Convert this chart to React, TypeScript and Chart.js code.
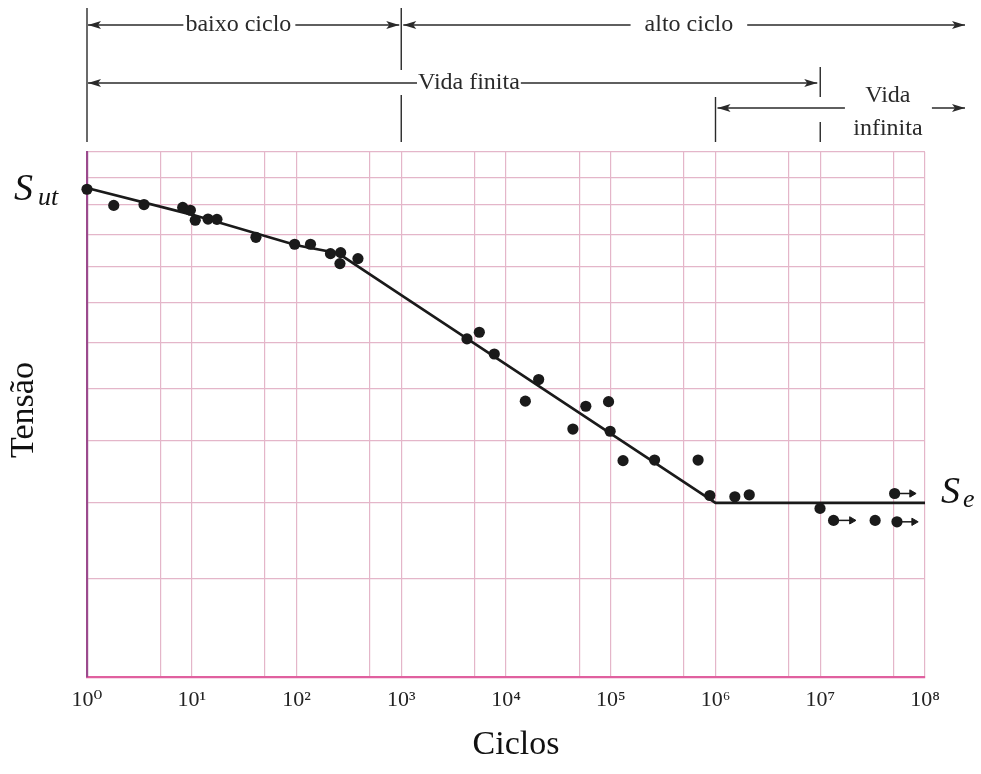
import React, { useEffect, useRef } from 'react';
import { Chart, registerables } from 'chart.js';

Chart.register(...registerables);

const SERIF = '"Liberation Serif", "DejaVu Serif", "Times New Roman", serif';

// x axis (cycles, log scale)
const decadeTicks = [1, 1e1, 1e2, 1e3, 1e4, 1e5, 1e6, 1e7, 1e8];
const halfDecadeTicks = [5, 5e1, 5e2, 5e3, 5e4, 5e5, 5e6, 5e7];
const tickLabels = ['10⁰', '10¹', '10²', '10³', '10⁴', '10⁵', '10⁶', '10⁷', '10⁸'];

// y axis (stress, log scale, unlabeled grid)
const stressGrid = [3, 4, 5, 6, 7, 8, 9, 10, 11, 12, 13, 14];

// S-N curve
const curveN = [1, 10, 100, 250, 1000, 1e6, 1e8];
const curveS = [12.6, 11.65, 10.65, 10.4, 9.2, 5.0, 5.0];

// test results
const testN = [1, 1.8, 3.5, 8.2, 9.7, 10.8, 14.3, 17.4, 41, 96, 136, 211, 264, 260, 386,
  4240, 5560, 7730, 15300, 20500, 43500, 57800, 95300, 98700, 131000, 262000, 682000,
  883000, 1.53e6, 2.1e6, 9.95e6, 1.34e7, 3.34e7, 5.4e7, 5.13e7];
const testS = [12.55, 11.97, 12.0, 11.9, 11.8, 11.46, 11.5, 11.49, 10.9, 10.68, 10.68, 10.39, 10.42, 10.09, 10.24,
  8.09, 8.25, 7.74, 6.74, 7.18, 6.21, 6.64, 6.73, 6.17, 5.66, 5.67, 5.67,
  5.11, 5.09, 5.12, 4.92, 4.75, 4.75, 4.73, 5.14];

// run-outs (unbroken specimens) with arrows
const runoutN = [1.34e7, 5.4e7, 5.13e7];
const runoutS = [4.75, 4.73, 5.14];
const runoutTipN = [2.0e7, 7.85e7, 7.5e7];

const INK = '#1a1a1a';
const TEXT = '#2a2a2a';

function arrowHead(ctx: CanvasRenderingContext2D, x: number, y: number, dir: number) {
  ctx.beginPath();
  ctx.moveTo(x, y);
  ctx.lineTo(x - dir * 13, y - 4);
  ctx.lineTo(x - dir * 10, y);
  ctx.lineTo(x - dir * 13, y + 4);
  ctx.closePath();
  ctx.fill();
}

function line(ctx: CanvasRenderingContext2D, x1: number, y1: number, x2: number, y2: number) {
  ctx.beginPath();
  ctx.moveTo(x1, y1);
  ctx.lineTo(x2, y2);
  ctx.stroke();
}

const annotations = {
  id: 'annotations',
  afterDraw(chart: any) {
    const ctx: CanvasRenderingContext2D = chart.ctx;
    const xs = chart.scales.x;
    const ys = chart.scales.y;
    const px = (v: number) => xs.getPixelForValue(v);
    const x0 = px(1), x3 = px(1e3), x6 = px(1e6), x7 = px(1e7);
    const xEnd = chart.chartArea.right + 40;
    ctx.save();
    ctx.strokeStyle = TEXT;
    ctx.fillStyle = TEXT;
    ctx.lineWidth = 1.4;
    // vertical boundary lines
    line(ctx, x0, 8, x0, 142);
    line(ctx, x3, 8, x3, 70);
    line(ctx, x3, 95, x3, 142);
    line(ctx, x7, 67, x7, 97);
    line(ctx, x7, 122, x7, 142);
    line(ctx, x6, 97, x6, 142);

    ctx.font = `24px ${SERIF}`;
    ctx.textAlign = 'center';
    ctx.textBaseline = 'middle';

    const labeledArrow = (xa: number, xb: number, y: number, txt: string, cx: number, gapL: number, gapR: number, headL: boolean, headR: boolean) => {
      const w = ctx.measureText(txt).width;
      line(ctx, xa, y, cx - w / 2 - gapL, y);
      line(ctx, cx + w / 2 + gapR, y, xb, y);
      ctx.fillText(txt, cx, y);
      if (headL) arrowHead(ctx, xa, y, -1);
      if (headR) arrowHead(ctx, xb, y, 1);
    };

    // row 1
    labeledArrow(x0 + 1, x3 - 2, 25, 'baixo ciclo', px(Math.pow(10, 1.445)), 2, 4, true, true);
    labeledArrow(x3 + 2, xEnd, 25, 'alto ciclo', px(Math.pow(10, 5.746)), 14, 14, true, true);
    // row 2
    labeledArrow(x0 + 1, x7 - 3, 83, 'Vida finita', px(Math.pow(10, 3.646)), 1, 1, true, true);
    // row 3
    const cInf = px(Math.pow(10, 7.646));
    line(ctx, x6 + 2, 108, cInf - 43, 108);
    arrowHead(ctx, x6 + 2, 108, -1);
    line(ctx, cInf + 44, 108, xEnd, 108);
    arrowHead(ctx, xEnd, 108, 1);
    ctx.fillText('Vida', cInf, 96);
    ctx.fillText('infinita', cInf, 129);

    // S_ut, S_e
    ctx.textAlign = 'left';
    ctx.textBaseline = 'alphabetic';
    ctx.fillStyle = '#111';
    const yut = ys.getPixelForValue(curveS[0]);
    ctx.font = `italic 38px ${SERIF}`;
    ctx.fillText('S', 14, yut + 12);
    ctx.font = `italic 26px ${SERIF}`;
    ctx.fillText('ut', 38, yut + 17);
    const ye = ys.getPixelForValue(curveS[curveS.length - 1]);
    ctx.font = `italic 38px ${SERIF}`;
    ctx.fillText('S', 941, ye);
    ctx.font = `italic 26px ${SERIF}`;
    ctx.fillText('e', 963, ye + 4);

    // axis titles
    ctx.font = `34px ${SERIF}`;
    ctx.textAlign = 'center';
    ctx.textBaseline = 'middle';
    ctx.fillText('Ciclos', 516, 745);
    ctx.save();
    ctx.translate(24, 410);
    ctx.rotate(-Math.PI / 2);
    ctx.fillText('Tensão', 0, 0);
    ctx.restore();

    ctx.restore();
  },
};

export default function App() {
  const ref = useRef<HTMLCanvasElement>(null);
  useEffect(() => {
    if (!ref.current) return;
    const xTickValues = [...decadeTicks, ...halfDecadeTicks].sort((a, b) => a - b);
    const datasets: any[] = [
      {
        label: 'Ensaios',
        data: testN.map((n, i) => ({ x: n, y: testS[i] })),
        showLine: false,
        pointRadius: 5.6,
        pointBackgroundColor: INK,
        pointBorderColor: INK,
        pointBorderWidth: 0,
        clip: false,
      },
      {
        label: 'Curva S-N',
        data: curveN.map((n, i) => ({ x: n, y: curveS[i] })),
        showLine: true,
        borderColor: INK,
        borderWidth: 2.6,
        pointRadius: 0,
        tension: 0,
        clip: false,
      },
      ...runoutN.map((n, i) => ({
        label: 'runout' + i,
        data: [{ x: n, y: runoutS[i] }, { x: runoutTipN[i], y: runoutS[i] }],
        showLine: true,
        borderColor: INK,
        borderWidth: 1.5,
        pointRadius: [0, 4.2],
        pointStyle: 'triangle',
        pointRotation: 90,
        pointBackgroundColor: INK,
        pointBorderColor: INK,
        pointBorderWidth: 1,
        clip: false,
      })),
    ];
    const chart = new Chart(ref.current, {
      type: 'scatter',
      data: { datasets },
      options: {
        animation: false,
        responsive: false,
        events: [],
        layout: { padding: { top: 152, right: 56, left: 0, bottom: 0 } },
        plugins: { legend: { display: false }, tooltip: { enabled: false } },
        scales: {
          x: {
            type: 'logarithmic',
            min: 1,
            max: 1e8,
            afterBuildTicks: (s: any) => { s.ticks = xTickValues.map((v) => ({ value: v })); },
            afterFit: (s: any) => { s.height = 97; },
            grid: { color: '#e4b6c9', lineWidth: 1.2, drawTicks: false },
            border: { display: true, color: '#e0609f', width: 2.2 },
            ticks: {
              autoSkip: false,
              maxRotation: 0,
              padding: 10,
              color: '#222',
              font: { family: SERIF, size: 22 },
              callback: (v: any) => {
                const i = decadeTicks.indexOf(Number(v));
                return i >= 0 ? tickLabels[i] : '';
              },
            },
          },
          y: {
            type: 'logarithmic',
            min: 3,
            max: 14,
            afterBuildTicks: (s: any) => { s.ticks = stressGrid.map((v) => ({ value: v })); },
            afterFit: (s: any) => { s.width = 87; },
            grid: { color: '#e4b6c9', lineWidth: 1.2, drawTicks: false },
            border: { display: true, color: '#9b4a8d', width: 2.2 },
            ticks: { display: false },
          },
        },
      },
      plugins: [annotations],
    });
    return () => chart.destroy();
  }, []);
  return (
    <div style={{ position: 'fixed', left: 0, top: 0, width: 981, height: 774, background: '#fff' }}>
      <canvas ref={ref} width={981} height={774} style={{ display: 'block' }} />
    </div>
  );
}
